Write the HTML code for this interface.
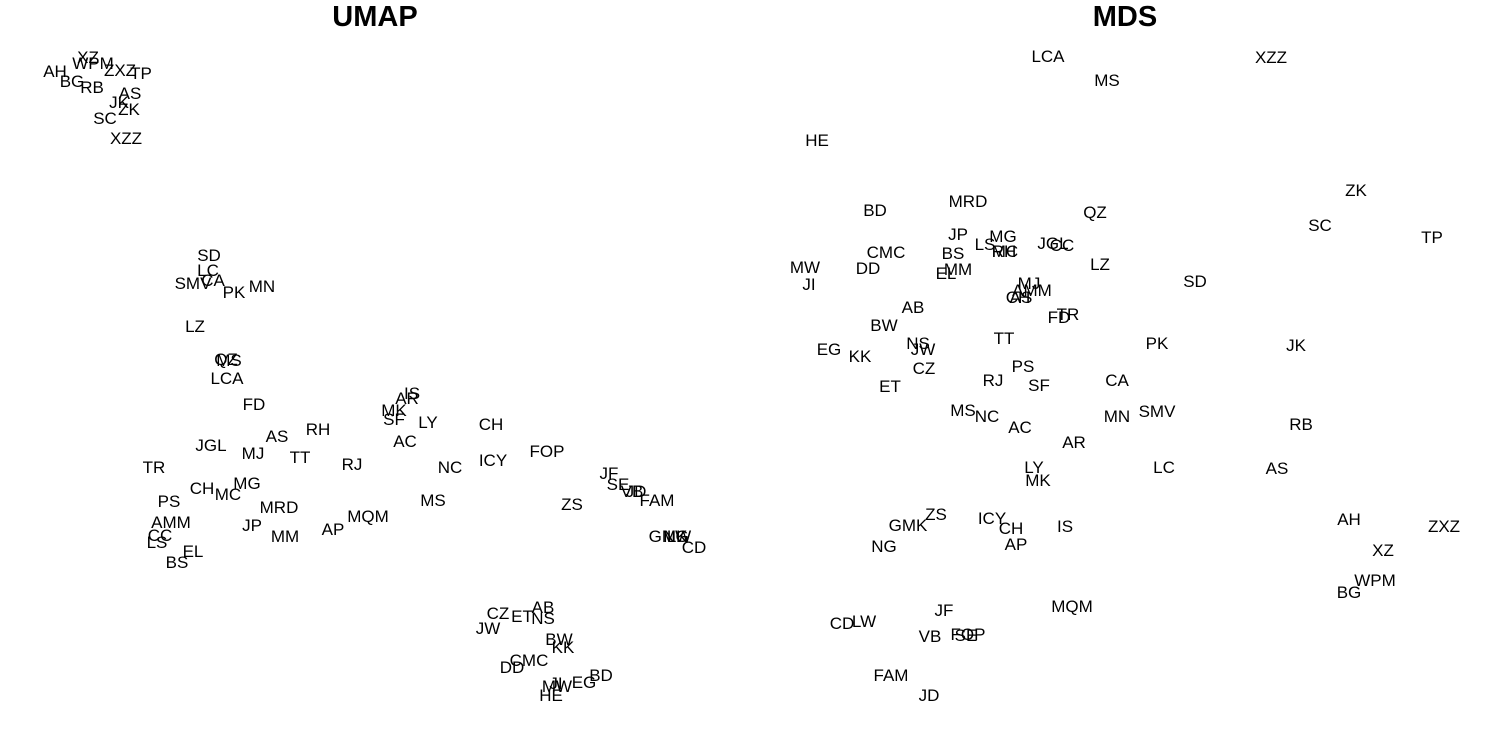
<!DOCTYPE html>
<html><head><meta charset="utf-8">
<style>
body{margin:0;background:#fff;}
svg text{font-family:"Liberation Sans",Arial,sans-serif;}
</style></head>
<body>
<svg id="chart" width="1500" height="750">
<text x="375" y="26" text-anchor="middle" font-size="29" font-weight="bold">UMAP</text>
<text x="1125" y="26" text-anchor="middle" font-size="29" font-weight="bold">MDS</text>
<g id="umap"></g>
<g id="mds"></g>
</svg>
<script>
const umapLabels=["XZ","WPM","AH","ZXZ","TP","BG","RB","AS","JK","ZK","SC","XZZ","SD","LC","SMV","CA","PK","MN","LZ","QZ","MS","LCA","FD","AS","RH","JGL","MJ","TT","TR","RJ","CH","MC","MG","PS","MRD","AMM","JP","CC","LS","MM","EL","BS","AP","MQM","IS","AR","MK","SF","LY","AC","NC","MS","CH","ICY","FOP","ZS","JF","SE","VB","JD","FAM","GMK","NG","LW","CD","CZ","AB","ET","NS","JW","BW","KK","CMC","DD","BD","EG","JI","MW","HE"];
const umapX=[88,93,55,120,141,72,92,130,119,129,105,126,209,208,193,213,234,262,195,226,229,227,254,277,318,211,253,300,154,352,202,228,247,169,279,171,252,160,157,285,193,177,333,368,412,407,394,394,428,405,450,433,491,493,547,572,609,618,632,636,657,668,676,679,694,498,543,522,543,488,559,563,529,512,601,584,556,557,551];
const umapY=[57,63,71,70,73,81,87,93,102,109,118,138,255,270,283,280,292,286,326,359,360,378,404,436,429,445,453,457,467,464,488,494,483,501,507,522,525,535,542,536,551,562,529,516,393,398,410,419,422,441,467,500,424,460,451,504,473,484,491,491,500,536,536,536,547,613,607,616,618,628,639,647,660,667,675,682,683,686,695];
const mdsLabels=["LCA","XZZ","MS","HE","ZK","BD","MRD","QZ","SC","TP","JP","MG","LS","RH","MC","BS","CMC","JGL","CC","MW","DD","EL","MM","LZ","SD","JI","MJ","AMM","CH","AS","FD","TR","AB","BW","NS","JW","TT","EG","KK","PK","JK","PS","CZ","RJ","SF","CA","ET","MS","NC","MN","SMV","AC","AR","RB","LY","LC","AS","MK","AH","ZXZ","ZS","GMK","ICY","CH","IS","NG","AP","XZ","WPM","BG","MQM","JF","CD","LW","VB","FOP","SE","FAM","JD"];
const mdsX=[1048,1271,1107,817,1356,875,968,1095,1320,1432,958,1003,985,1004,1005,953,886,1053,1062,805,868,946,958,1100,1195,809,1029,1032,1018,1021,1059,1068,913,884,918,923,1004,829,860,1157,1296,1023,924,993,1039,1117,890,963,987,1117,1157,1020,1074,1301,1034,1164,1277,1038,1349,1444,936,908,992,1011,1065,884,1016,1383,1375,1349,1072,944,842,864,930,968,966,891,929];
const mdsY=[56,57,80,140,190,210,201,212,225,237,234,236,244,251,251,253,252,243,245,267,268,273,269,264,281,284,283,290,297,297,317,314,307,325,343,349,338,349,356,343,345,366,368,380,385,380,386,410,416,416,411,427,442,424,467,467,468,480,519,526,514,525,518,528,526,546,544,550,580,592,606,610,623,621,636,634,635,675,695];
const xDomain=[0,1500], yDomain=[0,750];
function xScale(v){return (v-xDomain[0])/(xDomain[1]-xDomain[0])*1500;}
function yScale(v){return (v-yDomain[0])/(yDomain[1]-yDomain[0])*750;}
const NS="http://www.w3.org/2000/svg";
function draw(id,labels,xs,ys){
  const g=document.getElementById(id);
  labels.forEach((l,i)=>{
    const t=document.createElementNS(NS,"text");
    t.setAttribute("x",xScale(xs[i]));
    t.setAttribute("y",yScale(ys[i])+6);
    t.setAttribute("text-anchor","middle");
    t.setAttribute("font-size","17");
    
    
    t.textContent=l;
    g.appendChild(t);
  });
}
draw("umap",umapLabels,umapX,umapY);
draw("mds",mdsLabels,mdsX,mdsY);
</script>
</body></html>
